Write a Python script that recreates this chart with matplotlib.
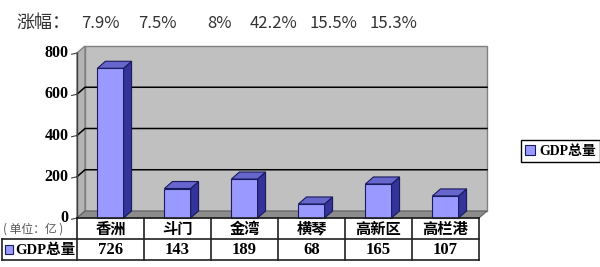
import matplotlib
matplotlib.use('Agg')
import matplotlib.pyplot as plt
from matplotlib.patches import Polygon, Rectangle

plt.rcParams['font.family'] = ['Liberation Serif', 'Noto Sans CJK SC', 'DejaVu Sans']

# datos
categorias = ['香洲', '斗门', '金湾', '横琴', '高新区', '高栏港']
gdp = [726, 143, 189, 68, 165, 107]
zhangfu = ['7.9%', '7.5%', '8%', '42.2%', '15.5%', '15.3%']
yticks = [0, 200, 400, 600, 800]
serie = 'GDP总量'

# colores estilo excel
c_front = '#9999ff'
c_top = '#6666cc'
c_side = '#333399'
c_edge = '#1a1a5e'
c_wall = '#c0c0c0'
c_floor = '#8c8c8c'

W, H = 600, 267
fig = plt.figure(figsize=(6, 2.67), dpi=100)
fig.patch.set_facecolor('white')


def fx(px):
    return px / W


def fy(py):
    return 1 - py / H


# titulo con los porcentajes
fig.text(fx(16), fy(23), '涨幅：', family=['Noto Sans CJK SC'], fontsize=13,
         color='#333333', ha='left', va='center')
pos_pct = [100, 157, 220, 274, 333, 393]
for p, t in zip(pos_pct, zhangfu):
    fig.text(fx(p), fy(23), t, family=['Noto Sans CJK SC'], fontsize=12,
             color='#333333', ha='center', va='center')

# eje principal (frente del grafico 3d)
ax = fig.add_axes([fx(77), fy(218), 402 / W, 165 / H])
ax.set_xlim(0, 6)
ax.set_ylim(0, 800)
ax.axis('off')

dx = 8 / 67.0          # profundidad en unidades x
dy = 7 * 800 / 165.0   # profundidad en unidades y
n = len(categorias)

# pared del fondo, pared lateral y piso
ax.add_patch(Polygon([(dx, dy), (n + dx, dy), (n + dx, 800 + dy), (dx, 800 + dy)],
                     closed=True, fc=c_wall, ec='#808080', lw=1, clip_on=False, zorder=1))
ax.add_patch(Polygon([(0, 0), (dx, dy), (dx, 800 + dy), (0, 800)],
                     closed=True, fc='#b4b4b4', ec='#808080', lw=1, clip_on=False, zorder=1))
ax.add_patch(Polygon([(0, 0), (n, 0), (n + dx, dy), (dx, dy)],
                     closed=True, fc=c_floor, ec='#606060', lw=0.8, clip_on=False, zorder=1))

# lineas de grilla
for v in yticks[1:-1]:
    ax.plot([0, dx, n + dx], [v, v + dy, v + dy], color='black', lw=1.1,
            clip_on=False, zorder=2)
ax.plot([0, 0], [0, 800], color='#404040', lw=1, clip_on=False, zorder=2)

# etiquetas y ticks del eje y
for v in yticks:
    ax.plot([-0.08, 0], [v - 6, v], color='#404040', lw=0.8, clip_on=False, zorder=2)
    ax.text(-0.13, v, str(v), ha='right', va='center', fontsize=11.5,
            fontweight='bold', color='black')

# barras
w = 0.39
xs = [i + 0.5 for i in range(n)]
bars = ax.bar(xs, gdp, width=w, color=c_front, edgecolor=c_edge, lw=0.8,
              zorder=4, clip_on=False, label=serie)
for x, v in zip(xs, gdp):
    x0, x1 = x - w / 2, x + w / 2
    ax.add_patch(Polygon([(x1, 0), (x1, v), (x1 + dx, v + dy), (x1 + dx, dy)],
                         closed=True, fc=c_side, ec=c_edge, lw=0.8, zorder=4, clip_on=False))
    ax.add_patch(Polygon([(x0, v), (x1, v), (x1 + dx, v + dy), (x0 + dx, v + dy)],
                         closed=True, fc=c_top, ec=c_edge, lw=0.8, zorder=4, clip_on=False))

# tabla de datos
tx = fig.add_axes([0, fy(260), 479 / W, 42 / H])
x_left = -77 * 6 / 402.0
tx.set_xlim(x_left, n)
tx.set_ylim(2, 0)
tx.axis('off')
x_borde = x_left + 2 * 6 / 402.0
lc = '#202020'
tx.plot([0, n], [0, 0], color=lc, lw=1.2, clip_on=False)
tx.plot([x_borde, n], [1, 1], color=lc, lw=1.2, clip_on=False)
tx.plot([x_borde, n], [2, 2], color=lc, lw=1.2, clip_on=False)
tx.plot([x_borde, x_borde], [1, 2], color=lc, lw=1.2, clip_on=False)
for i in range(n + 1):
    tx.plot([i, i], [0, 2], color=lc, lw=1.2, clip_on=False)
for i, (c, v) in enumerate(zip(categorias, gdp)):
    tx.text(i + 0.5, 0.52, c, ha='center', va='center', fontsize=11,
            fontweight='bold', family=['Noto Sans CJK SC'])
    tx.text(i + 0.5, 1.52, str(v), ha='center', va='center', fontsize=12,
            fontweight='bold')
tx.text(x_left + 3 * 6 / 402.0, 0.52, '( 单位：亿 )', ha='left', va='center',
        fontsize=8.5, color='#555555', family=['Noto Sans CJK SC'])
px = 6 / 402.0
tx.add_patch(Rectangle((x_left + 5 * px, 1.28), 8 * px, 0.42, fc=c_front,
                       ec=c_edge, lw=0.8, clip_on=False))
tx.text(x_left + 15 * px, 1.52, serie, ha='left', va='center', fontsize=10.5,
        fontweight='bold', family=['Liberation Serif', 'Noto Sans CJK SC'])

# leyenda
fig.legend([bars], [serie], loc='center left', bbox_to_anchor=(fx(521), fy(151)),
           bbox_transform=fig.transFigure, frameon=True, fancybox=False,
           edgecolor='black', framealpha=1, handlelength=0.7, handleheight=0.7,
           handletextpad=0.3, borderpad=0.3, borderaxespad=0,
           prop={'family': ['Liberation Serif', 'Noto Sans CJK SC'],
                 'weight': 'bold', 'size': 10})

fig.savefig('out.png', dpi=100)
